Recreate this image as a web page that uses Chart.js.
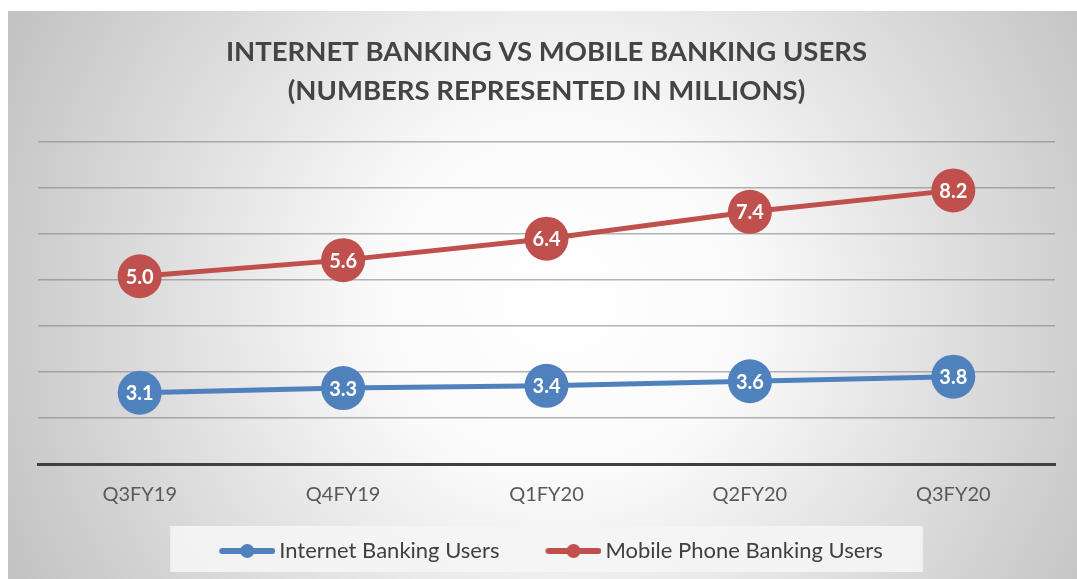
<!DOCTYPE html>
<html>
<head>
<meta charset="utf-8">
<script src="https://cdn.jsdelivr.net/npm/chart.js@4.4.1/dist/chart.umd.min.js"></script>
<style>
  html, body { margin: 0; padding: 0; background: #ffffff; }
  canvas { display: block; }
</style>
</head>
<body>
<canvas id="chart1" width="1077" height="579"></canvas>
<script>
// quarters on the x axis
const quarters = ['Q3FY19', 'Q4FY19', 'Q1FY20', 'Q2FY20', 'Q3FY20'];
// users in millions
const internetUsers = [3.1, 3.3, 3.4, 3.6, 3.8];
const mobileUsers = [5.0, 5.6, 6.4, 7.4, 8.2];
const seriesNames = ['Internet Banking Users', 'Mobile Phone Banking Users'];
const titleLines = ['INTERNET BANKING VS MOBILE BANKING USERS', '(NUMBERS REPRESENTED IN MILLIONS)'];

const blue = '#4F81BD';
const red = '#C0504D';
const fontName = 'Lato, "Open Sans", sans-serif';

// little line + dot symbol for the legend, blank on the left for spacing
function legendSymbol(color) {
  const c = document.createElement('canvas');
  c.width = 97;
  c.height = 16;
  const g = c.getContext('2d');
  g.strokeStyle = color;
  g.lineWidth = 6;
  g.lineCap = 'round';
  g.beginPath();
  g.moveTo(44, 8);
  g.lineTo(94, 8);
  g.stroke();
  g.fillStyle = color;
  g.beginPath();
  g.arc(69, 8, 7, 0, Math.PI * 2);
  g.fill();
  return c;
}

// background of the whole chart
const backgroundPlugin = {
  id: 'bg',
  beforeDraw(chart) {
    const ctx = chart.ctx;
    ctx.save();
    ctx.fillStyle = '#ffffff';
    ctx.fillRect(0, 0, chart.width, chart.height);
    const grad = ctx.createRadialGradient(560, 300, 0, 560, 300, 610);
    grad.addColorStop(0, '#ffffff');
    grad.addColorStop(0.3, '#fafafa');
    grad.addColorStop(1, '#c3c3c3');
    ctx.fillStyle = grad;
    ctx.fillRect(8, 11, chart.width - 8, chart.height - 11);

    // legend box
    const boxes = chart.legend.legendHitBoxes;
    if (boxes && boxes.length) {
      const first = boxes[0];
      const last = boxes[boxes.length - 1];
      const left = first.left - 15;
      const right = last.left + last.width + 40;
      ctx.fillStyle = 'rgba(245,245,245,0.9)';
      ctx.fillRect(left, chart.legend.top - 2, right - left, chart.legend.height + 2);
    }
    ctx.restore();
  }
};

// white value labels inside the markers
const valueLabelPlugin = {
  id: 'valueLabels',
  afterDatasetsDraw(chart) {
    const ctx = chart.ctx;
    ctx.save();
    ctx.fillStyle = '#ffffff';
    ctx.font = 'bold 20px ' + fontName;
    ctx.textAlign = 'center';
    ctx.textBaseline = 'middle';
    chart.data.datasets.forEach((ds, i) => {
      const meta = chart.getDatasetMeta(i);
      meta.data.forEach((pt, j) => {
        ctx.fillText(ds.data[j].toFixed(1), pt.x, pt.y + 1);
      });
    });
    ctx.restore();
  }
};

const config = {
  type: 'line',
  data: {
    labels: quarters,
    datasets: [{
      label: seriesNames[0],
      data: internetUsers,
      yAxisID: 'yInternet',
      borderColor: blue,
      backgroundColor: blue,
      borderWidth: 5,
      pointRadius: 22,
      pointBorderWidth: 0,
      pointBackgroundColor: blue,
      symbol: legendSymbol(blue)
    }, {
      label: seriesNames[1],
      data: mobileUsers,
      yAxisID: 'yMobile',
      borderColor: red,
      backgroundColor: red,
      borderWidth: 5,
      pointRadius: 22,
      pointBorderWidth: 0,
      pointBackgroundColor: red,
      symbol: legendSymbol(red)
    }]
  },
  options: {
    responsive: false,
    animation: false,
    events: [],
    clip: false,
    layout: {
      padding: { top: 0, left: 10, right: 19, bottom: 7 }
    },
    scales: {
      x: {
        offset: true,
        grid: { display: false, drawTicks: false },
        border: { display: true, color: '#404040', width: 3 },
        ticks: {
          color: '#595959',
          padding: 19,
          font: { family: fontName, size: 20 }
        },
        afterFit(scale) { scale.height = 64; }
      },
      yInternet: {
        position: 'left',
        min: 0,
        max: 14,
        grid: {
          drawTicks: false,
          lineWidth: 1.5,
          color: ctx => ctx.tick && ctx.tick.value === 0 ? 'rgba(0,0,0,0)' : 'rgba(130,130,130,0.6)'
        },
        border: { display: false },
        ticks: { display: false, stepSize: 2 },
        afterFit(scale) { scale.width = 28; }
      },
      yMobile: {
        display: false,
        min: -2,
        max: 10
      }
    },
    plugins: {
      title: {
        display: true,
        fullSize: false,
        text: titleLines,
        color: '#444444',
        font: { family: fontName, size: 27.5, weight: 'bold', lineHeight: 1.42 },
        padding: { top: 33, bottom: 31 }
      },
      legend: {
        position: 'bottom',
        labels: {
          usePointStyle: true,
          pointStyleWidth: 83,
          boxHeight: 16,
          padding: 12,
          color: '#404040',
          font: { family: fontName, size: 22 },
          generateLabels(chart) {
            return chart.data.datasets.map((ds, i) => ({
              text: ds.label,
              pointStyle: ds.symbol,
              fillStyle: ds.borderColor,
              strokeStyle: ds.borderColor,
              fontColor: '#404040',
              lineWidth: 0,
              hidden: false,
              datasetIndex: i
            }));
          }
        }
      },
      tooltip: { enabled: false }
    }
  },
  plugins: [backgroundPlugin, valueLabelPlugin]
};

new Chart(document.getElementById('chart1'), config);
</script>
</body>
</html>
